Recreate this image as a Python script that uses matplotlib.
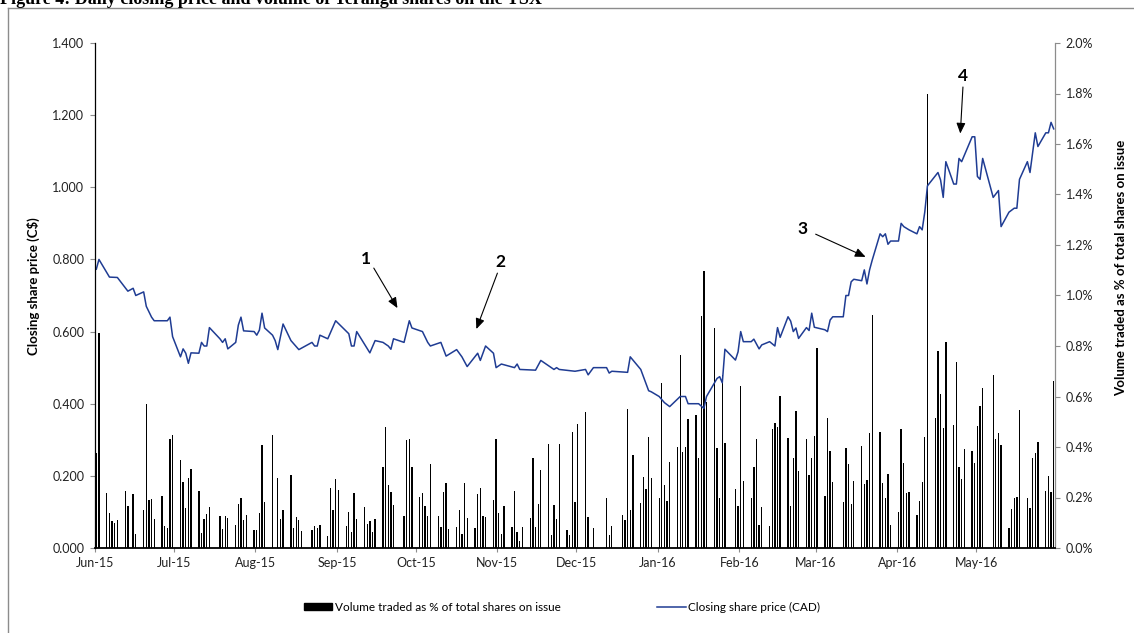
import matplotlib
matplotlib.use("Agg")
import matplotlib.pyplot as plt
from matplotlib.lines import Line2D
from matplotlib.patches import Patch
from matplotlib.ticker import FuncFormatter, MultipleLocator
import pandas as pd

plt.rcParams["font.family"] = ["Lato", "DejaVu Sans"]

# Daily volume traded (% of shares on issue), one row per week Mon..Fri,
# first row is the week of 1 Jun 2015. 0 means no bar that day.
vol_week_start = "2015-06-01"
vol_weeks = [
    [0, 0, 0, 0.377, 0.852],
    [0.216, 0.139, 0.107, 0.099, 0.110],
    [0.225, 0.167, 0, 0.213, 0.054],
    [0.150, 0.571, 0.189, 0.193, 0.114],
    [0.207, 0.089, 0.081, 0.430, 0.446],
    [0.348, 0.262, 0.158, 0.278, 0.313],
    [0.225, 0.060, 0.113, 0.134, 0.163],
    [0, 0.127, 0.075, 0.126, 0.120],
    [0.090, 0.173, 0.199, 0.110, 0.130],
    [0.070, 0.070, 0.139, 0.407, 0.181],
    [0.449, 0, 0.278, 0.115, 0.150],
    [0.290, 0.079, 0.122, 0.109, 0.068],
    [0, 0.073, 0.086, 0.081, 0.090],
    [0.048, 0.236, 0.152, 0.274, 0.229],
    [0.086, 0.142, 0.064, 0.219, 0.114],
    [0.164, 0.097, 0.106, 0.065, 0.114],
    [0.322, 0.478, 0.250, 0.222, 0.171],
    [0, 0.126, 0.428, 0.433, 0.322],
    [0.203, 0.216, 0.166, 0.126, 0.332],
    [0.126, 0.083, 0.222, 0.256, 0.075],
    [0.083, 0.150, 0.057, 0.256, 0.117],
    [0.079, 0.212, 0.236, 0.126, 0.123],
    [0.189, 0.430, 0.139, 0.054, 0.166],
    [0.083, 0.225, 0.062, 0.028, 0.083],
    [0.117, 0.358, 0.083, 0.173, 0.309],
    [0.412, 0.052, 0.170, 0.114, 0.412],
    [0.070, 0.050, 0.460, 0.183, 0.491],
    [0.540, 0.123, 0, 0.081, 0],
    [0, 0.199, 0.050, 0.087, 0],
    [0.130, 0.110, 0.552, 0.150, 0.370],
    [0.177, 0.282, 0.232, 0.441, 0.276],
    [0.197, 0.652, 0.248, 0.187, 0.341],
    [0.399, 0.764, 0.381, 0.401, 0.510],
    [0.525, 0.355, 0.919, 1.097, 0.579],
    [0.870, 0.395, 0.197, 0.685, 0.417],
    [0, 0.235, 0.168, 0.642, 0.267],
    [0.199, 0.320, 0.430, 0.090, 0.161],
    [0.087, 0.473, 0.494, 0.479, 0.603],
    [0.437, 0.166, 0.356, 0.544, 0.304],
    [0.433, 0.288, 0.356, 0.444, 0.793],
    [0.205, 0.516, 0.383, 0.261, 0],
    [0.183, 0.395, 0.331, 0.174, 0.267],
    [0.405, 0.253, 0.269, 0.454, 0.921],
    [0.461, 0.259, 0.197, 0.293, 0.091],
    [0.144, 0.470, 0.335, 0.217, 0.223],
    [0.131, 0.186, 0.260, 0.438, 1.800],
    [0.514, 0.781, 0.609, 0.474, 0.817],
    [0.487, 0.735, 0.322, 0.273, 0.392],
    [0.384, 0.338, 0.483, 0.564, 0.632],
    [0, 0.685, 0.430, 0.454, 0.408],
    [0.078, 0.153, 0.200, 0.203, 0.547],
    [0.200, 0.160, 0.358, 0.378, 0.421],
    [0.227, 0.286, 0.223, 0.661, 0],
]

# Closing share price (CAD), read at the turning points of the line
price_dates = [
    "2015-06-04", "2015-06-05", "2015-06-09", "2015-06-12", "2015-06-16",
    "2015-06-18", "2015-06-19", "2015-06-22", "2015-06-23", "2015-06-25",
    "2015-06-26", "2015-07-01", "2015-07-02", "2015-07-03", "2015-07-06",
    "2015-07-07", "2015-07-08", "2015-07-09", "2015-07-10", "2015-07-13",
    "2015-07-14", "2015-07-15", "2015-07-16", "2015-07-17", "2015-07-21",
    "2015-07-22", "2015-07-23", "2015-07-24", "2015-07-27", "2015-07-28",
    "2015-07-29", "2015-07-30", "2015-08-03", "2015-08-04", "2015-08-05",
    "2015-08-06", "2015-08-07", "2015-08-10", "2015-08-11", "2015-08-12",
    "2015-08-14", "2015-08-17", "2015-08-20", "2015-08-25", "2015-08-26",
    "2015-08-27", "2015-08-28", "2015-08-31", "2015-09-03", "2015-09-08",
    "2015-09-09", "2015-09-10", "2015-09-11", "2015-09-16", "2015-09-18",
    "2015-09-21", "2015-09-23", "2015-09-24", "2015-09-25", "2015-09-29",
    "2015-10-01", "2015-10-02", "2015-10-06", "2015-10-08", "2015-10-09",
    "2015-10-13", "2015-10-15", "2015-10-19", "2015-10-21", "2015-10-23",
    "2015-10-27", "2015-10-28", "2015-10-30", "2015-11-02", "2015-11-03",
    "2015-11-05", "2015-11-10", "2015-11-11", "2015-11-12", "2015-11-18",
    "2015-11-20", "2015-11-25", "2015-11-26", "2015-11-27", "2015-12-03",
    "2015-12-07", "2015-12-08", "2015-12-10", "2015-12-15", "2015-12-16",
    "2015-12-17", "2015-12-23", "2015-12-24", "2015-12-28", "2015-12-31",
    "2016-01-01", "2016-01-04", "2016-01-06", "2016-01-08", "2016-01-12",
    "2016-01-14", "2016-01-15", "2016-01-19", "2016-01-21", "2016-01-22",
    "2016-01-26", "2016-01-27", "2016-01-28", "2016-01-29", "2016-02-02",
    "2016-02-03", "2016-02-04", "2016-02-05", "2016-02-08", "2016-02-09",
    "2016-02-11", "2016-02-12", "2016-02-15", "2016-02-17", "2016-02-18",
    "2016-02-19", "2016-02-22", "2016-02-23", "2016-02-24", "2016-02-25",
    "2016-02-26", "2016-02-29", "2016-03-01", "2016-03-02", "2016-03-03",
    "2016-03-07", "2016-03-08", "2016-03-09", "2016-03-10", "2016-03-14",
    "2016-03-15", "2016-03-16", "2016-03-17", "2016-03-18", "2016-03-21",
    "2016-03-22", "2016-03-23", "2016-03-24", "2016-03-25", "2016-03-28",
    "2016-03-29", "2016-03-30", "2016-03-31", "2016-04-01", "2016-04-04",
    "2016-04-05", "2016-04-06", "2016-04-08", "2016-04-11", "2016-04-12",
    "2016-04-13", "2016-04-14", "2016-04-15", "2016-04-19", "2016-04-20",
    "2016-04-21", "2016-04-22", "2016-04-25", "2016-04-26", "2016-04-27",
    "2016-04-28", "2016-05-02", "2016-05-03", "2016-05-04", "2016-05-05",
    "2016-05-06", "2016-05-10", "2016-05-12", "2016-05-13", "2016-05-16",
    "2016-05-18", "2016-05-19", "2016-05-20", "2016-05-23", "2016-05-24",
    "2016-05-26", "2016-05-27", "2016-05-30", "2016-05-31", "2016-06-01",
    "2016-06-02",
]
price_values = [
    0.773, 0.800, 0.751, 0.750, 0.712,
    0.720, 0.700, 0.710, 0.670, 0.640,
    0.630, 0.630, 0.640, 0.586, 0.530,
    0.552, 0.540, 0.512, 0.541, 0.540,
    0.570, 0.560, 0.560, 0.611, 0.580,
    0.570, 0.580, 0.552, 0.570, 0.618,
    0.640, 0.602, 0.600, 0.590, 0.604,
    0.651, 0.610, 0.590, 0.575, 0.550,
    0.621, 0.575, 0.550, 0.570, 0.560,
    0.560, 0.590, 0.580, 0.630, 0.594,
    0.560, 0.560, 0.600, 0.541, 0.575,
    0.570, 0.560, 0.551, 0.580, 0.570,
    0.630, 0.610, 0.600, 0.570, 0.560,
    0.570, 0.532, 0.550, 0.530, 0.503,
    0.540, 0.520, 0.560, 0.540, 0.500,
    0.510, 0.500, 0.510, 0.495, 0.493,
    0.520, 0.495, 0.500, 0.495, 0.490,
    0.495, 0.480, 0.500, 0.500, 0.485,
    0.490, 0.487, 0.530, 0.495, 0.436,
    0.433, 0.420, 0.403, 0.392, 0.420,
    0.420, 0.400, 0.400, 0.387, 0.420,
    0.470, 0.475, 0.458, 0.551, 0.521,
    0.544, 0.600, 0.572, 0.572, 0.579,
    0.552, 0.563, 0.572, 0.560, 0.611,
    0.584, 0.641, 0.629, 0.600, 0.610,
    0.581, 0.611, 0.603, 0.651, 0.612,
    0.605, 0.600, 0.632, 0.641, 0.641,
    0.700, 0.700, 0.738, 0.745, 0.741,
    0.771, 0.732, 0.771, 0.798, 0.871,
    0.863, 0.871, 0.842, 0.851, 0.851,
    0.900, 0.891, 0.882, 0.871, 0.891,
    0.882, 0.932, 1.004, 1.041, 1.020,
    0.972, 1.071, 1.009, 1.009, 1.080,
    1.071, 1.140, 1.140, 1.030, 1.022,
    1.080, 0.972, 0.991, 0.891, 0.931,
    0.942, 0.942, 1.022, 1.071, 1.041,
    1.151, 1.113, 1.151, 1.151, 1.180,
    1.162,
]

# numbered call-outs: label, where the number sits, arrow start, arrow tip
callout_labels = ["1", "2", "3", "4"]
callout_text = [("2015-09-15", 0.801), ("2015-11-05", 0.793),
                ("2016-02-28", 0.884), ("2016-04-29", 1.309)]
callout_tail = [("2015-09-18", 0.776), ("2015-11-04", 0.762),
                ("2016-03-04", 0.870), ("2016-04-29", 1.278)]
callout_tip = [("2015-09-27", 0.665), ("2015-10-27", 0.607),
               ("2016-03-23", 0.807), ("2016-04-28", 1.149)]

axis_start = pd.Timestamp("2015-06-04")
axis_end = pd.Timestamp("2016-06-03")
month_ticks = pd.date_range(axis_start, "2016-05-04", freq=pd.DateOffset(months=1))

half_day = pd.Timedelta(hours=12)
vol_days = pd.bdate_range(vol_week_start, periods=5 * len(vol_weeks))
vol_flat = [v for week in vol_weeks for v in week]
bar_x = [d + half_day for d, v in zip(vol_days, vol_flat) if v > 0]
bar_h = [v for v in vol_flat if v > 0]

W, H = 1134, 633
fig = plt.figure(figsize=(W / 100, H / 100), dpi=100)
ax = fig.add_axes([95 / W, 1 - 548 / H, 960 / W, 505 / H])
ax2 = ax.twinx()

ax2.bar(bar_x, bar_h, width=0.5, color="black", linewidth=0)
ax.plot(pd.to_datetime(price_dates) + half_day, price_values,
        color="#1f3c93", lw=1.1)

ax.set_zorder(ax2.get_zorder() + 1)
ax.patch.set_visible(False)

ax.set_xlim(axis_start, axis_end)
ax.set_ylim(0, 1.4)
ax2.set_ylim(0, 2.0)
ax.yaxis.set_major_locator(MultipleLocator(0.2))
ax2.yaxis.set_major_locator(MultipleLocator(0.2))
ax.yaxis.set_major_formatter(FuncFormatter(lambda v, p: f"{v:.3f}"))
ax2.yaxis.set_major_formatter(FuncFormatter(lambda v, p: f"{v:.1f}%"))
ax.set_xticks(month_ticks)
ax.set_xticklabels([d.strftime("%b-%y") for d in month_ticks])

for s in ["top", "right"]:
    ax.spines[s].set_visible(False)
for s in ["top", "left", "bottom"]:
    ax2.spines[s].set_visible(False)
ax.spines["left"].set_color("black")
ax.spines["left"].set_linewidth(0.9)
ax.spines["bottom"].set_color("black")
ax.spines["bottom"].set_linewidth(1.3)
ax2.spines["right"].set_color("#8c8c8c")
ax2.spines["right"].set_linewidth(0.9)

ax.tick_params(axis="y", direction="out", length=3.6, width=0.8,
               color="#8c8c8c", pad=4, labelsize=9, labelcolor="#222222")
ax.tick_params(axis="x", direction="out", length=3, width=0.8,
               color="#8c8c8c", pad=3.5, labelsize=9, labelcolor="#222222")
ax2.tick_params(axis="y", direction="out", length=3.6, width=0.8,
                color="#8c8c8c", pad=4, labelsize=9, labelcolor="#222222")

fig.text(33 / W, 1 - 286 / H, "Closing share price (C$)", rotation=90,
         ha="center", va="center", fontsize=9.5, weight="bold")
fig.text(1121 / W, 1 - 268 / H, "Volume traded as % of total shares on issue",
         rotation=90, ha="center", va="center", fontsize=9.5, weight="bold")

for lab, (tx, ty), (sx, sy), (ex, ey) in zip(callout_labels, callout_text,
                                              callout_tail, callout_tip):
    ax.text(pd.Timestamp(tx), ty, lab, ha="center", va="center",
            fontsize=12.5, weight="bold")
    ax.annotate("", xy=(pd.Timestamp(ex), ey), xytext=(pd.Timestamp(sx), sy),
                arrowprops=dict(arrowstyle="-|>,head_length=0.7,head_width=0.3",
                                mutation_scale=9, color="black", lw=0.8,
                                shrinkA=0, shrinkB=0))

handles = [Patch(facecolor="black", edgecolor="black"),
           Line2D([0], [0], color="#1f3c93", lw=1.1)]
labels = ["Volume traded as % of total shares on issue",
          "Closing share price (CAD)"]
fig.legend(handles, labels, loc="center", bbox_to_anchor=(562 / W, 1 - 607 / H),
           ncol=2, frameon=False, fontsize=8.5, handlelength=2.4,
           handleheight=0.5, handletextpad=0.2, columnspacing=8.2)

# chart-area border and the caption sitting above it (cut at the top)
fig.add_artist(Line2D([7.5 / W, 7.5 / W], [0, 1 - 7.5 / H],
                      transform=fig.transFigure, color="#8c8c8c", lw=1))
fig.add_artist(Line2D([7.5 / W, 1], [1 - 7.5 / H, 1 - 7.5 / H],
                      transform=fig.transFigure, color="#8c8c8c", lw=1))
fig.text(0, 1 - 4 / H,
         "Figure 4: Daily closing price and volume of Teranga shares on the TSX",
         family="Liberation Serif", weight="bold", fontsize=13,
         ha="left", va="baseline")

fig.savefig("out.png", dpi=100)
